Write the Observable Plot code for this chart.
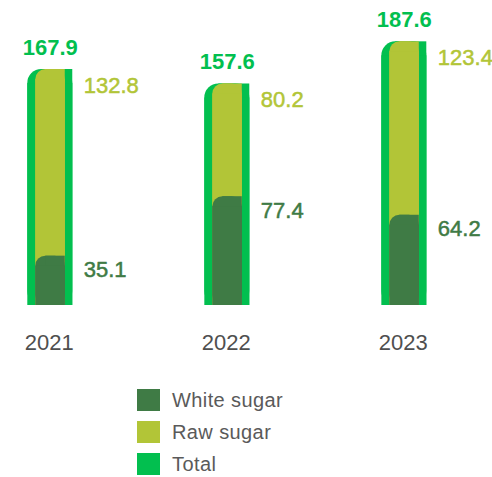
<!DOCTYPE html>
<html>
<head>
<meta charset="utf-8">
<script src="https://cdn.jsdelivr.net/npm/d3@7"></script>
<script src="https://cdn.jsdelivr.net/npm/@observablehq/plot@0.6"></script>
<style>
  html, body { margin: 0; padding: 0; background: #fff; }
  body { width: 492px; height: 477px; overflow: hidden; font-family: "Liberation Sans", Arial, sans-serif; }
  #legend { position: relative; height: 105px; }
  .item { position: absolute; left: 137px; display: flex; align-items: center; height: 22px; }
  .sw { width: 23px; height: 22px; }
  .lab { margin-left: 12px; font-size: 20px; letter-spacing: 0.4px; color: #5a5a5a; line-height: 22px; }
</style>
</head>
<body>
<div id="chart"></div>
<div id="legend"></div>
<script>
const years = ["2021", "2022", "2023"];
const whiteSugar = [35.1, 77.4, 64.2];
const rawSugar = [132.8, 80.2, 123.4];
const totals = [167.9, 157.6, 187.6];
const seriesNames = ["White sugar", "Raw sugar", "Total"];
const seriesColors = ["#3f7b45", "#b2c537", "#02bf4f"];

const rows = years.map((year, i) => ({year, white: whiteSugar[i], raw: rawSugar[i], total: totals[i]}));
const [cWhite, cRaw, cTotal] = seriesColors;
const font = "Liberation Sans, Arial, sans-serif";

function roundedTL(key, fill, inL, inR, r) {
  return [
    Plot.barY(rows, {x: "year", y1: () => 0, y2: key, fill, insetLeft: inL, insetRight: inR, rx: r}),
    Plot.barY(rows, {x: "year", y1: () => 0, y2: key, fill, insetLeft: inL + r, insetRight: inR}),
    Plot.barY(rows, {x: "year", y1: () => 0, y2: key, fill, insetLeft: inL, insetRight: inR, insetTop: r})
  ];
}

const chart = Plot.plot({
  width: 492,
  height: 372,
  marginTop: 0,
  marginBottom: 67,
  marginLeft: 9.6,
  marginRight: 48,
  x: {domain: years, paddingInner: 0.746, paddingOuter: 0.1, round: false, axis: null},
  y: {domain: [0, 217], axis: null},
  style: {fontFamily: font, background: "transparent", overflow: "visible"},
  marks: [
    ...roundedTL("total", cTotal, 0, 0, 14),
    ...roundedTL("total", cRaw, 8, 7.5, 10),
    ...roundedTL("white", cWhite, 8, 7.5, 10),
    Plot.text(rows, {x: "year", y: "total", text: d => d.total.toFixed(1), dy: -15, lineAnchor: "bottom",
      fill: cTotal, fontSize: 22, fontWeight: "bold", fontFamily: font}),
    Plot.text(rows, {x: "year", y: "total", text: d => d.raw.toFixed(1), dx: 33.5, dy: 23, textAnchor: "start",
      lineAnchor: "bottom", fill: cRaw, stroke: cRaw, strokeWidth: 0.5, fontSize: 22, fontFamily: font}),
    Plot.text(rows, {x: "year", y: "white", text: d => d.white.toFixed(1), dx: 33.5, dy: 21, textAnchor: "start",
      lineAnchor: "bottom", fill: cWhite, stroke: cWhite, strokeWidth: 0.5, fontSize: 22, fontFamily: font}),
    Plot.text(rows, {x: "year", y: () => 0, text: "year", dy: 44, dx: -1, lineAnchor: "bottom",
      fill: "#4f4f4f", fontSize: 22, fontFamily: font})
  ]
});
document.getElementById("chart").appendChild(chart);

const legend = document.getElementById("legend");
const tops = [17.3, 49, 80.7];
seriesNames.forEach((name, i) => {
  const item = document.createElement("div");
  item.className = "item";
  item.style.top = tops[i] + "px";
  const sw = document.createElement("div");
  sw.className = "sw";
  sw.style.background = seriesColors[i];
  const lab = document.createElement("span");
  lab.className = "lab";
  lab.textContent = name;
  item.appendChild(sw);
  item.appendChild(lab);
  legend.appendChild(item);
});
</script>
</body>
</html>
